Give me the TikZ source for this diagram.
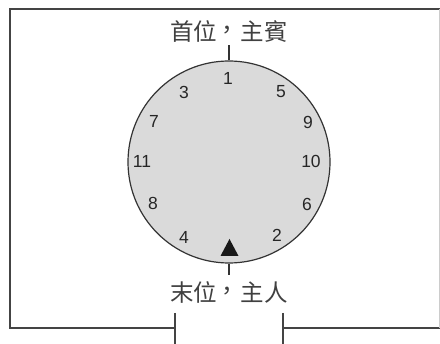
\documentclass[tikz,border=0pt]{standalone}
\usepackage{fontspec}
\setmainfont{Liberation Sans}
\newfontfamily\cjk{Noto Sans CJK TC}
\newcommand{\tcomma}{\kern-0.06em\raisebox{0.05em}{，}\kern0.06em}
\definecolor{linec}{HTML}{444444}
\definecolor{dialfill}{HTML}{DADADA}
\begin{document}
\begin{tikzpicture}[x=1pt,y=-1pt,
  wall/.style={draw=linec,line width=1.5pt},
  num/.style={font=\fontsize{17.5}{17.5}\selectfont,text=black!85,inner sep=0pt},
  lab/.style={font=\cjk\fontsize{23.5}{23.5}\selectfont,text=black!75,inner sep=0pt}]
\useasboundingbox (0,0) rectangle (440,344);
% walls
\coordinate (tl) at (10,9);
\coordinate (tr) at (440,9);
\coordinate (bl) at (10,328);
\coordinate (dl) at (175,328);
\coordinate (dr) at (283,328);
\coordinate (br) at (440,328);
\coordinate (dlt) at (175,313);
\coordinate (dlb) at (175,344);
\coordinate (drt) at (283,313);
\coordinate (drb) at (283,344);
\draw[wall] (tr) -- (tl) -- (bl) -- (dl);
\draw[wall] (dr) -- (br);
\draw[wall] (dlt) -- (dlb);
\draw[wall] (drt) -- (drb);
\draw[draw=black!20,line width=1pt] (439.5,9) -- (439.5,328);
% dial
\node[circle,draw=black!80,fill=dialfill,line width=1.2pt,minimum size=202pt,inner sep=0pt] (dial) at (229,162) {};
\coordinate (ttop) at (229,45);
\coordinate (tbot) at (229,275);
\draw[draw=black!80,line width=1.2pt] (dial.north) -- (ttop);
\draw[draw=black!80,line width=1.2pt] (dial.south) -- (tbot);
\node[lab] (top) at (229,31) {首位\tcomma 主賓};
\node[lab] (bot) at (229,292) {末位\tcomma 主人};
% numbers
\node[num] (n1) at (228,78) {1};
\node[num] (n3) at (184,92) {3};
\node[num] (n5) at (281,92) {5};
\node[num] (n7) at (154,121) {7};
\node[num] (n9) at (308,122) {9};
\node[num] (n11) at (142,161) {11};
\node[num] (n10) at (311,161) {10};
\node[num] (n8) at (153,203) {8};
\node[num] (n6) at (307,204) {6};
\node[num] (n4) at (184,237) {4};
\node[num] (n2) at (277,235) {2};
\fill[black!90] (229.5,239) -- (238.5,256) -- (220.5,256) -- cycle;
\end{tikzpicture}
\end{document}
